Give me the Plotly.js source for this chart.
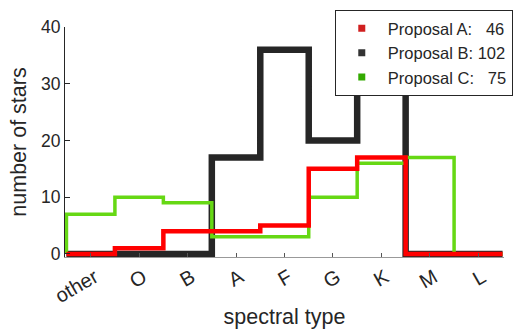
<!DOCTYPE html>
<html>
<head>
<meta charset="utf-8">
<script src="https://cdn.plot.ly/plotly-3.0.1.min.js"></script>
<style>html,body{margin:0;padding:0;background:#fff;}#chart{width:513px;height:329px;}</style>
</head>
<body>
<div id="chart"></div>
<script>
const categories = ["other", "O", "B", "A", "F", "G", "K", "M", "L"];
const proposalA = [0, 1, 4, 4, 5, 15, 17, 0, 0];
const proposalB = [0, 0, 0, 17, 36, 20, 29, 0, 0];
const proposalC = [7, 10, 9, 3, 3, 10, 16, 17, 0];
const seriesNames = ["Proposal A:", "Proposal B:", "Proposal C:"];
const yTicks = [0, 10, 20, 30, 40];

function total(arr) { return arr.reduce((a, b) => a + b, 0); }
function stairs(vals) {
  const x = [-0.5], y = [0];
  vals.forEach((v, i) => { x.push(i - 0.5); y.push(v); });
  x.push(vals.length - 0.5); y.push(vals[vals.length - 1]);
  return {x, y};
}
function label(name, vals) {
  const t = String(total(vals));
  const pad = t.length < 3 ? "\u00a0\u00a0\u00a0" : "\u00a0";
  return name + pad + t;
}

const lineCol = ["#ff0000", "#262626", "#66d814"];
const legCol = ["#d01f1f", "#333333", "#33aa00"];
const widths = [4.5, 6.5, 3.5];
const data = [proposalA, proposalB, proposalC];

const traces = [];
// draw order: B, C, A
[1, 2, 0].forEach(k => {
  const s = stairs(data[k]);
  traces.push({x: s.x, y: s.y, type: "scatter", mode: "lines", line: {shape: "hv", color: lineCol[k], width: widths[k]}, showlegend: false, hoverinfo: "skip"});
});
[0, 1, 2].forEach(k => {
  traces.push({x: [null], y: [null], type: "scatter", mode: "markers", name: label(seriesNames[k], data[k]), legendrank: k + 1,
    marker: {symbol: "square", size: 7, color: legCol[k]}});
});

const font = "'Liberation Sans', Arial, Helvetica, sans-serif";
const layout = {
  width: 513, height: 329,
  margin: {l: 65, r: 9, t: 27, b: 71.5, autoexpand: false},
  paper_bgcolor: "#fff", plot_bgcolor: "#fff",
  font: {family: font, color: "#262626", size: 17.5},
  showlegend: true,
  legend: {x: 1.02, xanchor: "right", y: 1.074, yanchor: "top", bgcolor: "#fff", bordercolor: "#262626", borderwidth: 1,
    font: {size: 16.5, color: "#262626"}, itemwidth: 42, traceorder: "normal"},
  xaxis: {
    range: [-0.53, 8.53], tickvals: categories.map((c, i) => i), ticktext: categories, tickangle: -30,
    ticks: "inside", ticklen: 4, tickcolor: "#555", showline: true, linecolor: "#999", linewidth: 1,
    showgrid: false, zeroline: false, tickfont: {size: 20}, ticklabelshift: 4,
    title: {text: "spectral type", font: {size: 21.5}, standoff: 12}
  },
  yaxis: {
    range: [-0.55, 40], tickvals: yTicks, ticks: "inside", ticklen: 5, tickcolor: "#262626",
    showline: true, linecolor: "#262626", linewidth: 1, showgrid: false, zeroline: false, tickfont: {size: 17.5},
    title: {text: "number of stars", font: {size: 21.5}, standoff: 8}
  }
};
Plotly.newPlot("chart", traces, layout, {staticPlot: true, displayModeBar: false});
</script>
</body>
</html>
